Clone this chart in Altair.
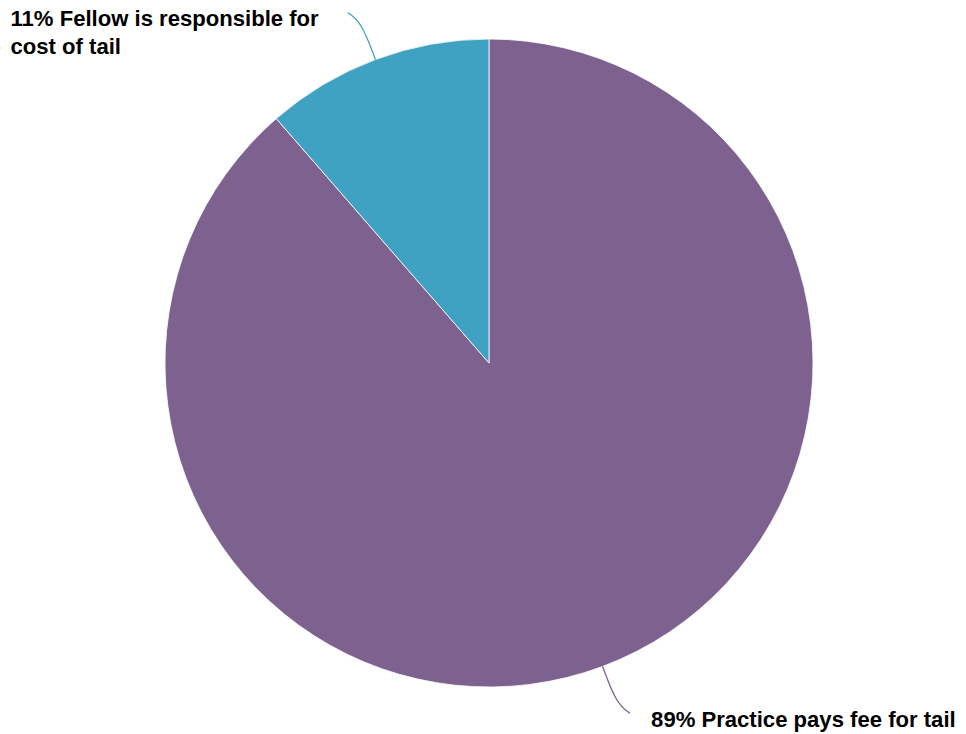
import altair as alt
import pandas as pd

# ---- data ----
categories = ["Practice pays fee for tail", "Fellow is responsible for cost of tail"]
values = [88.6, 11.4]
labels = ["89% Practice pays fee for tail", "11% Fellow is responsible for\ncost of tail"]
colors = ["#7D618E", "#40A2C2"]
order = [0, 1]

df = pd.DataFrame({"category": categories, "value": values, "label": labels, "order": order})

W, H = 950, 718
CX, CY, R = 481, 355, 324

color_scale = alt.Scale(domain=categories, range=colors)

pie = alt.Chart(df).mark_arc(radius=R, stroke="white", strokeWidth=0.8).encode(
    theta=alt.Theta("value:Q", stack=True),
    color=alt.Color("category:N", scale=color_scale, legend=None),
    order=alt.Order("order:Q", sort="ascending"),
    x=alt.value(CX),
    y=alt.value(CY),
)

geo = (
    alt.Chart(df)
    .transform_joinaggregate(total="sum(value)")
    .transform_window(cum="sum(value)", sort=[alt.SortField("order", order="ascending")], frame=[None, 0])
    .transform_calculate(mid=f"(datum.cum - datum.value/2) / datum.total * 2 * PI")
    .transform_calculate(side="sin(datum.mid) < 0 ? -1 : 1")
)

xs = alt.Scale(domain=[0, W], nice=False, zero=False)
ys = alt.Scale(domain=[0, H], nice=False, zero=False, reverse=True)

lines = (
    geo.transform_calculate(steps="[0, 1, 2]")
    .transform_flatten(["steps"])
    .transform_calculate(
        rr=f"datum.steps == 0 ? {R} : (datum.steps == 1 ? {R + 40} : {R + 50})"
    )
    .transform_calculate(
        px=f"{CX} + datum.rr * sin(datum.mid) + (datum.steps == 2 ? datum.side * 10 : 0)",
        py=f"{CY} - datum.rr * cos(datum.mid)",
    )
    .mark_line(interpolate="basis", strokeWidth=1.3)
    .encode(
        x=alt.X("px:Q", scale=xs, axis=None),
        y=alt.Y("py:Q", scale=ys, axis=None),
        color=alt.Color("category:N", scale=color_scale, legend=None),
        detail="category:N",
        order="steps:Q",
    )
)

texts = (
    geo.transform_calculate(
        ex=f"{CX} + {R + 50} * sin(datum.mid) + datum.side * 10",
        ey=f"{CY} - {R + 50} * cos(datum.mid)",
    )
    .transform_calculate(
        tx="datum.side < 0 ? 2.5 : datum.ex + 21",
        ty="datum.ey - 3.5",
    )
    .mark_text(
        align="left",
        baseline="top",
        font="Liberation Sans",
        fontSize=22.1,
        fontWeight="bold",
        lineBreak="\n",
        lineHeight=28,
        color="black",
    )
    .encode(
        x=alt.X("tx:Q", scale=xs, axis=None),
        y=alt.Y("ty:Q", scale=ys, axis=None),
        text="label:N",
    )
)

chart = (
    alt.layer(pie, lines, texts)
    .properties(
        width=W,
        height=H,
        autosize=alt.AutoSizeParams(type="none"),
        padding={"left": 0, "top": 0, "right": 0, "bottom": 8},
    )
    .configure_view(stroke=None)
)

chart.save("out.html", embed_options={"renderer": "svg", "actions": False})
